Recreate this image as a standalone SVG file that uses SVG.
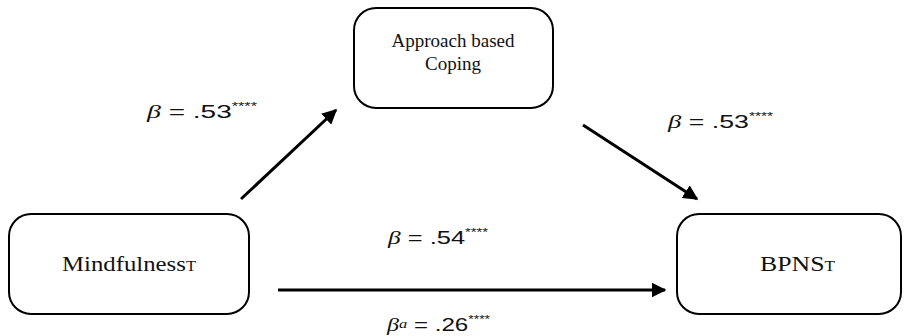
<svg xmlns="http://www.w3.org/2000/svg" width="905" height="336" viewBox="0 0 905 336">
<style>
.box{fill:#fff;stroke:#000;stroke-width:2}
.nt{font-family:"Liberation Serif","Times New Roman",serif;font-size:21px;fill:#111}
.nc{font-family:"Liberation Serif","Times New Roman",serif;font-size:19px;fill:#111;text-anchor:middle}
.lb{font-family:"Liberation Sans",Arial,sans-serif;font-size:19px;fill:#111}
.b{font-family:"Liberation Serif",serif;font-style:italic}
.st{font-size:11px}
.cn{stroke:#000;stroke-width:3;fill:none;marker-end:url(#ah)}
</style>
<defs>
<marker id="ah" viewBox="0 0 10 10" refX="9" refY="5" markerWidth="5" markerHeight="5" orient="auto" markerUnits="strokeWidth">
<path d="M0,0 L10,5 L0,10 z" fill="#000"/>
</marker>
</defs>
<rect width="905" height="336" fill="#fff"/>
<g id="node-approach">
<rect class="box" x="354" y="8" width="199" height="100" rx="22"/>
<text class="nc" x="453" y="47">Approach based</text>
<text class="nc" x="453" y="70">Coping</text>
</g>
<g id="node-mindfulness">
<rect class="box" x="9" y="214" width="240" height="100" rx="22"/>
<text class="nt" x="62" y="271" textLength="134" lengthAdjust="spacingAndGlyphs">Mindfulness<tspan font-size="14">T</tspan></text>
</g>
<g id="node-bpns">
<rect class="box" x="677" y="214" width="224" height="100" rx="22"/>
<text class="nt" x="760" y="271" textLength="75" lengthAdjust="spacingAndGlyphs">BPNS<tspan font-size="14">T</tspan></text>
</g>
<g id="connectors">
<line class="cn" x1="241" y1="199" x2="336" y2="110"/>
<line class="cn" x1="583" y1="125" x2="697" y2="199"/>
<line class="cn" x1="278" y1="290" x2="665" y2="290"/>
</g>
<g id="labels">
<text class="lb" x="147" y="118" textLength="110" lengthAdjust="spacingAndGlyphs"><tspan class="b">β</tspan> = .53<tspan class="st" dy="-8">****</tspan></text>
<text class="lb" x="668" y="128" textLength="105" lengthAdjust="spacingAndGlyphs"><tspan class="b">β</tspan> = .53<tspan class="st" dy="-8">****</tspan></text>
<text class="lb" x="388" y="244" textLength="100" lengthAdjust="spacingAndGlyphs"><tspan class="b">β</tspan> = .54<tspan class="st" dy="-8">****</tspan></text>
<text class="lb" x="387" y="331" textLength="103" lengthAdjust="spacingAndGlyphs"><tspan class="b">β</tspan><tspan class="b" font-size="13" dy="-3">a</tspan><tspan dy="3"> = .26</tspan><tspan class="st" dy="-8">****</tspan></text>
</g>
</svg>
